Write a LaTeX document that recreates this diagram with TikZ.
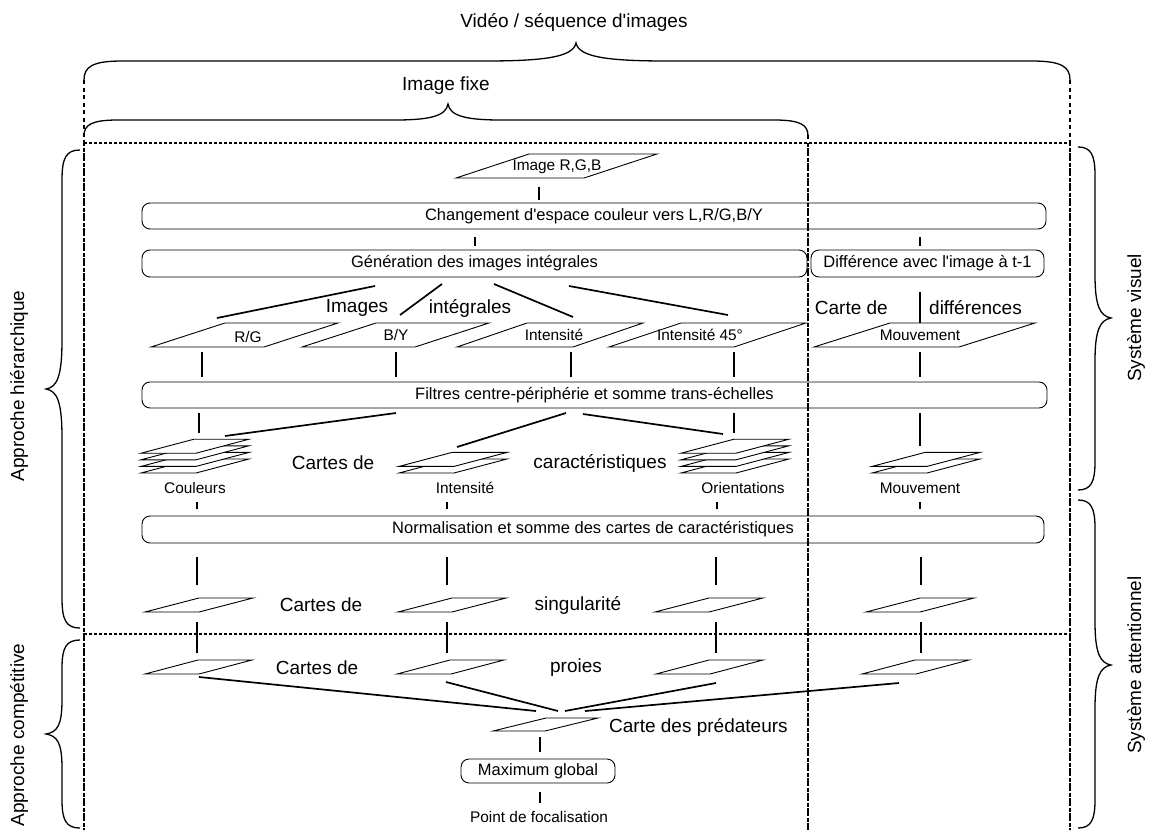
\documentclass[tikz,border=0pt]{standalone}
\usepackage{fontspec}
\setmainfont{Liberation Sans}
\newfontfamily\lsans{Liberation Sans}
\newcommand\pgram[5]{% BLx, bottom y, width, skew, height
  \draw[pg] (#1,#2) -- ++(#3,0) -- ++(#4,-#5) -- ++(-#3,0) -- cycle;}
\newcommand\lstack[3]{% left x, bottom y, layers
  \foreach \i in {1,...,#3}{\pgfmathsetmacro\yb{#2-(\i-1)*6.6}
    \draw[pg] (#1,\yb) -- ++(55,0) -- ++(53,-14) -- ++(-55,0) -- cycle;}}
\begin{document}
\begin{tikzpicture}[x=1pt,y=-1pt,
  big/.style={font=\lsans\fontsize{19}{22}\selectfont, inner sep=0pt},
  mid/.style={font=\lsans\fontsize{16.5}{19}\selectfont, inner sep=0pt},
  sml/.style={font=\lsans\fontsize{15.4}{18}\selectfont, inner sep=0pt},
  rbox/.style={draw, rounded corners=8pt, line width=0.9pt, mid},
  conn/.style={line width=1.3pt},
  fan/.style={line width=1.7pt},
  pg/.style={draw, line width=0.9pt, fill=white, line join=miter},
  brace/.style={line width=1.3pt},
  dbox/.style={line width=1.3pt, dash pattern=on 3pt off 2pt},
  dlong/.style={line width=1.2pt, dash pattern=on 4pt off 3.5pt}]
\useasboundingbox (0,0) rectangle (1151,830);
% ---------- frames ----------
\draw[dlong] (84,80) -- (84,830);
\draw[dlong] (1070,80) -- (1070,830);
\draw[dlong] (808,135) -- (808,830);
\draw[dbox] (84,143) -- (84,830);
\draw[dbox] (1070,143) -- (1070,830);
\draw[dbox] (808,143) -- (808,830);
\draw[dbox] (84,143) -- (1070,143);
\draw[dbox] (84,634) -- (1070,634);
% ---------- braces ----------
\draw[brace] (84,80) .. controls (84,67) and (92,61) .. (122,61) -- (485,61)
  .. controls (545,61) and (573,57) .. (576,43)
  .. controls (579,57) and (607,61) .. (667,61) -- (1032,61)
  .. controls (1062,61) and (1070,67) .. (1070,80);
\draw[brace] (84,136) .. controls (84,125) and (91,120) .. (118,120) -- (395,120)
  .. controls (430,120) and (446,116) .. (448,104)
  .. controls (450,116) and (466,120) .. (501,120) -- (774,120)
  .. controls (801,120) and (808,125) .. (808,136);
\draw[brace] (80,150) .. controls (66,150) and (62,158) .. (62,180) -- (62,340)
  .. controls (62,377) and (57,387) .. (46,389)
  .. controls (57,391) and (62,401) .. (62,438) -- (62,598)
  .. controls (62,620) and (66,628) .. (80,628);
\draw[brace] (80,640) .. controls (66,640) and (62,648) .. (62,668) -- (62,700)
  .. controls (62,726) and (57,732) .. (46,734)
  .. controls (57,736) and (62,742) .. (62,768) -- (62,800)
  .. controls (62,820) and (66,828) .. (80,828);
\draw[brace] (1078,147) .. controls (1091,147) and (1095,155) .. (1095,175) -- (1095,275)
  .. controls (1095,306) and (1100,316) .. (1111,318)
  .. controls (1100,320) and (1095,330) .. (1095,361) -- (1095,462)
  .. controls (1095,482) and (1091,490) .. (1078,490);
\draw[brace] (1078,500) .. controls (1091,500) and (1095,508) .. (1095,528) -- (1095,622)
  .. controls (1095,653) and (1100,663) .. (1111,665)
  .. controls (1100,667) and (1095,677) .. (1095,708) -- (1095,800)
  .. controls (1095,820) and (1091,828) .. (1078,828);
% ---------- side / top labels ----------
\node[big] (video) at (574,22) {Vidéo / séquence d'images};
\node[big] (fixe) at (446,86) {Image fixe};
\node[big, rotate=90] (hier) at (19,386) {Approche hiérarchique};
\node[big, rotate=90] (comp) at (19,735) {Approche compétitive};
\node[big, rotate=90] (visu) at (1136,318) {Système visuel};
\node[big, rotate=90] (atte) at (1136,665) {Système attentionnel};
% ---------- image RGB ----------
\pgram{456}{178}{128}{73}{24}
\node[sml] (rgb) at (557,167) {Image R,G,B};
% ---------- boxes ----------
\node[rbox, minimum width=904pt, minimum height=26pt] (chg) at (594,216) {Changement d'espace couleur vers L,R/G,B/Y};
\node[rbox, minimum width=665pt, minimum height=27pt] (gen) at (474.5,263.5) {Génération des images intégrales};
\node[rbox, minimum width=233pt, minimum height=27pt] (diff) at (927.5,263.5) {Différence avec l'image à t-1};
\node[rbox, minimum width=905pt, minimum height=26pt] (filt) at (594.5,395) {Filtres centre-périphérie et somme trans-échelles};
\node[rbox, minimum width=902pt, minimum height=27pt] (norm) at (593,529.5) {Normalisation et somme des cartes de caractéristiques};
\node[rbox, minimum width=154pt, minimum height=24pt] (maxg) at (538,771) {Maximum global};
% ---------- connectors top ----------
\coordinate (a1) at (539,187); \coordinate (a2) at (539,200);
\draw[conn] (a1) -- (a2);
\draw[conn] (475,237) coordinate (b1) -- (475,246) coordinate (b2);
\draw[conn] (920,237) coordinate (b3) -- (920,246) coordinate (b4);
\draw[fan] (375,286) coordinate (f1a) -- (217,318) coordinate (f1b);
\draw[fan] (442,284) coordinate (f2a) -- (400,315) coordinate (f2b);
\draw[fan] (494,284) coordinate (f3a) -- (573,317) coordinate (f3b);
\draw[fan] (569,286) coordinate (f4a) -- (728,315) coordinate (f4b);
\draw[conn] (920,292) coordinate (d1) -- (920,323) coordinate (d2);
\node[big] (imgs) at (357,308) {Images};
\node[big] (integ) at (470,308) {intégrales};
\node[big, anchor=east] (cartede1) at (888,308) {Carte de};
\node[big, anchor=west] (diffs) at (929,308) {différences};
% ---------- row 1 parallelograms ----------
\pgram{151}{347}{113}{74}{24}
\pgram{302}{347}{113}{74}{24}
\pgram{457}{347}{116}{70}{24}
\pgram{609}{347}{125}{72}{24}
\pgram{814}{347}{145}{76}{24}
\node[sml] (rg) at (248,337) {R/G};
\node[sml] (by) at (396,335) {B/Y};
\node[sml] (int) at (554,335) {Intensité};
\node[sml] (int45) at (700,335) {Intensité 45°};
\node[sml] (mouv) at (920,335) {Mouvement};
\foreach \x in {202,396,571,734,920}{\draw[conn] (\x,352) -- (\x,377);}
% ---------- below filters ----------
\draw[conn] (199,413) -- (199,433);
\draw[fan] (396,413) -- (225,436);
\draw[fan] (566,413) -- (457,447);
\draw[fan] (583,414) -- (723,434);
\draw[conn] (734,413) -- (734,433);
\draw[conn] (920,413) -- (920,446);
\lstack{141}{473}{4}
\lstack{399}{473}{2}
\lstack{681}{473}{4}
\lstack{872}{473}{2}
\node[big] (cartes1) at (333,463) {Cartes de};
\node[big] (caract) at (600,463) {caractéristiques};
\node[sml] (lcoul) at (195,488) {Couleurs};
\node[sml] (lint) at (465,488) {Intensité};
\node[sml] (lori) at (743,488) {Orientations};
\node[sml] (lmou) at (920,488) {Mouvement};
\foreach \x in {197,447,717,920}{\draw[conn] (\x,502) -- (\x,509);}
% ---------- saliency ----------
\foreach \x in {197,447,716,921}{\draw[conn] (\x,557) -- (\x,585);}
\pgram{145}{612}{54}{54}{14}
\pgram{398}{612}{54}{54}{14}
\pgram{655}{612}{54}{54}{14}
\pgram{866}{612}{54}{54}{14}
\node[big] (cartes2) at (321,605) {Cartes de};
\node[big] (sing) at (578,605) {singularité};
\foreach \x in {197,447,716,921}{\draw[conn] (\x,622) -- (\x,653);}
% ---------- preys ----------
\pgram{145}{674}{54}{53}{14}
\pgram{397}{674}{54}{53}{14}
\pgram{656}{674}{54}{53}{14}
\pgram{862}{674}{54}{53}{14}
\node[big] (cartes3) at (317,668) {Cartes de};
\node[big] (proies) at (576,668) {proies};
\draw[fan] (199,677) -- (536,711);
\draw[fan] (446,682) -- (558,711);
\draw[fan] (716,683) -- (565,711);
\draw[fan] (899,683) -- (585,711);
% ---------- predators ----------
\pgram{493}{731}{52}{53}{13}
\node[big, anchor=west] (pred) at (609,727) {Carte des prédateurs};
\draw[conn] (540,737) -- (540,752);
\draw[conn] (540,792) -- (540,803);
\node[sml] (focal) at (539,817) {Point de focalisation};
\end{tikzpicture}
\end{document}
